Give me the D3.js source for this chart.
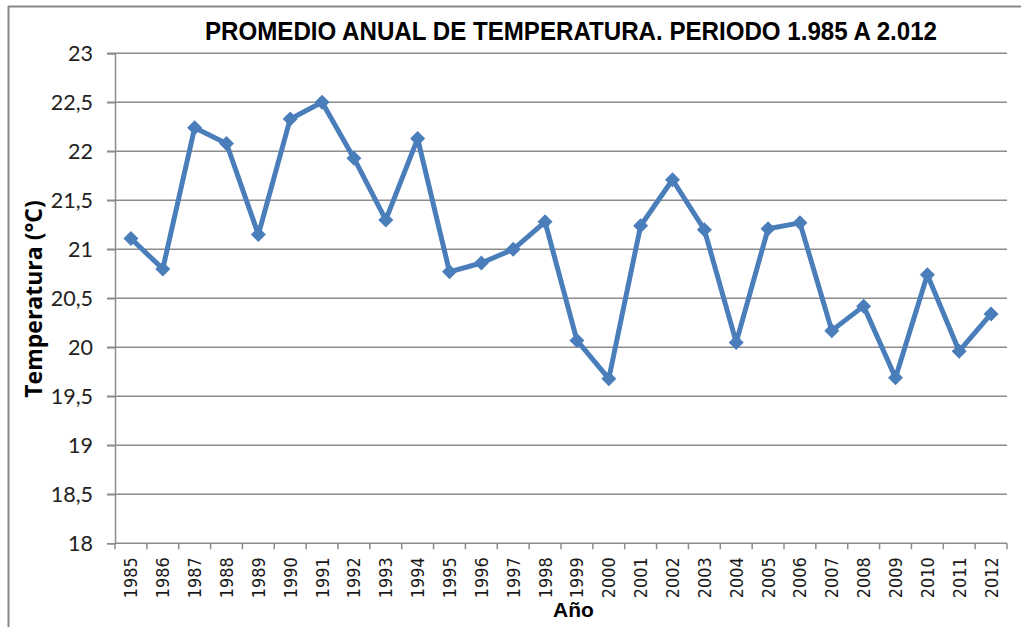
<!DOCTYPE html>
<html>
<head>
<meta charset="utf-8">
<script src="https://cdn.jsdelivr.net/npm/d3@7"></script>
<style>
html, body { margin: 0; padding: 0; background: #fff; }
svg { display: block; }
</style>
</head>
<body>
<svg id="chart" width="1021" height="627"></svg>
<script>
const years = ["1985","1986","1987","1988","1989","1990","1991","1992","1993","1994","1995","1996","1997","1998","1999","2000","2001","2002","2003","2004","2005","2006","2007","2008","2009","2010","2011","2012"];
const temps = [21.11, 20.80, 22.24, 22.08, 21.15, 22.33, 22.50, 21.93, 21.30, 22.13, 20.77, 20.86, 21.00, 21.28, 20.07, 19.68, 21.24, 21.71, 21.20, 20.05, 21.21, 21.27, 20.17, 20.42, 19.69, 20.74, 19.96, 20.34];
const yTicks = [18, 18.5, 19, 19.5, 20, 20.5, 21, 21.5, 22, 22.5, 23];
const titleText = "PROMEDIO ANUAL DE TEMPERATURA. PERIODO 1.985 A 2.012";
const yTitle = "Temperatura (°C)";
const xTitle = "Año";

const svg = d3.select("#chart");
const W = 1021, H = 627;
const m = { left: 115, right: 1007, top: 53.3, bottom: 543.3 };
const gridColor = "#8c8c8c";
const lineColor = "#4a7ebb";

// Frame (top and left borders visible)
svg.append("line").attr("x1", 8).attr("x2", W).attr("y1", 6.5).attr("y2", 6.5)
  .attr("stroke", "#888").attr("stroke-width", 2);
svg.append("line").attr("x1", 8.5).attr("x2", 8.5).attr("y1", 6).attr("y2", H)
  .attr("stroke", "#888").attr("stroke-width", 2);

const x = d3.scaleBand().domain(years).range([m.left, m.right]).padding(0);
const y = d3.scaleLinear().domain([18, 23]).range([m.bottom, m.top]);

// gridlines
svg.append("g").selectAll("line").data(yTicks.filter(d => d > 18)).join("line")
  .attr("x1", m.left - 8).attr("x2", m.right)
  .attr("y1", d => y(d)).attr("y2", d => y(d))
  .attr("stroke", gridColor).attr("stroke-width", 1.5);

// y axis
const yAxis = svg.append("g").attr("transform", `translate(${m.left},0)`)
  .call(d3.axisLeft(y).tickValues(yTicks).tickSize(8).tickPadding(14)
    .tickFormat(d => String(d).replace(".", ",")));
yAxis.select(".domain").attr("stroke", gridColor).attr("stroke-width", 1.5);
yAxis.selectAll(".tick line").attr("stroke", gridColor).attr("stroke-width", 1.5);
yAxis.selectAll(".tick text").attr("fill", "#222").style("font-family", "Lato, 'Open Sans', sans-serif")
  .style("font-size", "21.5px");

// x axis
const xAxisG = svg.append("g").attr("transform", `translate(0,${m.bottom})`);
xAxisG.append("line").attr("x1", m.left).attr("x2", m.right).attr("y1", 0).attr("y2", 0)
  .attr("stroke", gridColor).attr("stroke-width", 1.5);
const bounds = years.map(d => x(d)).concat([x(years[years.length - 1]) + x.bandwidth()]);
xAxisG.selectAll("line.tk").data(bounds).join("line").attr("class", "tk")
  .attr("x1", d => d).attr("x2", d => d).attr("y1", 0).attr("y2", 6)
  .attr("stroke", gridColor).attr("stroke-width", 1.5);
xAxisG.selectAll("text").data(years).join("text")
  .attr("transform", d => `translate(${x(d) + x.bandwidth() / 2 + 6.5},${55}) rotate(-90)`)
  .attr("text-anchor", "start")
  .attr("fill", "#1a1a1a")
  .attr("textLength", 41).attr("lengthAdjust", "spacingAndGlyphs")
  .style("font-family", "'DejaVu Sans', sans-serif")
  .style("font-size", "17.5px")
  .text(d => d);

// line
const line = d3.line().x((d, i) => x(years[i]) + x.bandwidth() / 2).y(d => y(d));
svg.append("path").datum(temps).attr("d", line).attr("fill", "none")
  .attr("stroke", lineColor).attr("stroke-width", 5).attr("stroke-linejoin", "round");

// diamond markers
const r = 7.5;
svg.append("g").selectAll("path").data(temps).join("path")
  .attr("d", (d, i) => {
    const cx = x(years[i]) + x.bandwidth() / 2, cy = y(d);
    return `M${cx},${cy - r}L${cx + r},${cy}L${cx},${cy + r}L${cx - r},${cy}Z`;
  })
  .attr("fill", lineColor);

// title
svg.append("text").attr("x", 571).attr("y", 39.5).attr("text-anchor", "middle")
  .style("font-family", "'Liberation Sans', Arial, sans-serif").style("font-weight", "bold")
  .style("font-size", "25px").attr("textLength", 732).attr("lengthAdjust", "spacingAndGlyphs")
  .attr("fill", "#000").text(titleText);

// y title
svg.append("text").attr("transform", "translate(42,299) rotate(-90)").attr("text-anchor", "middle")
  .style("font-family", "'Open Sans', 'Liberation Sans', sans-serif").style("font-weight", "bold")
  .style("font-size", "23px")
  .attr("fill", "#000").text(yTitle);

// x title
svg.append("text").attr("x", 573.5).attr("y", 617).attr("text-anchor", "middle")
  .style("font-family", "'Liberation Sans', Arial, sans-serif").style("font-weight", "bold")
  .style("font-size", "21px").attr("fill", "#000").text(xTitle);
</script>
</body>
</html>
